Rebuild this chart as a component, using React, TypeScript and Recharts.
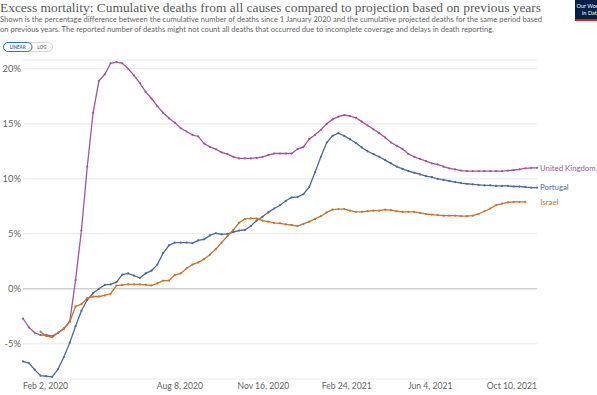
import React from 'react';
import { LineChart, Line, XAxis, YAxis, CartesianGrid, ReferenceLine } from 'recharts';

// Weekly points starting Feb 2, 2020 (day 0) through Oct 10, 2021 (day 616)
const ukValues: (number | null)[] = [
  -2.7, -3.5, -4.0, -4.2, -4.2, -4.3, -4.0, -3.6, -3.0, 0.8,
  5.3, 11.1, 16.0, 18.9, 19.5, 20.5, 20.6, 20.5, 20.0, 19.4,
  18.7, 17.9, 17.3, 16.6, 16.0, 15.5, 15.1, 14.6, 14.3, 14.0,
  13.85, 13.2, 12.9, 12.7, 12.4, 12.25, 12.0, 11.85, 11.85, 11.85,
  11.9, 12.0, 12.15, 12.3, 12.3, 12.3, 12.3, 12.7, 12.9, 13.6,
  14.0, 14.45, 15.0, 15.4, 15.65, 15.8, 15.7, 15.55, 15.2, 14.85,
  14.5, 14.15, 13.75, 13.3, 13.0, 12.7, 12.25, 12.0, 11.8, 11.6,
  11.4, 11.3, 11.1, 10.95, 10.85, 10.75, 10.7, 10.7, 10.7, 10.7,
  10.7, 10.7, 10.7, 10.75, 10.8, 10.85, 10.95, 11.0, 11.0,
];

const portugalValues: (number | null)[] = [
  -6.6, -6.75, -7.35, -7.9, -7.95, -8.0, -7.3, -6.2, -4.9, -3.4,
  -2.0, -1.0, -0.4, 0.0, 0.35, 0.4, 0.6, 1.3, 1.4, 1.2,
  1.0, 1.4, 1.65, 2.2, 3.25, 3.95, 4.2, 4.2, 4.2, 4.15,
  4.4, 4.5, 4.85, 5.05, 4.95, 5.0, 5.15, 5.3, 5.35, 5.7,
  6.2, 6.55, 6.95, 7.3, 7.6, 8.0, 8.3, 8.35, 8.6, 9.25,
  10.6, 12.0, 13.3, 13.9, 14.15, 13.9, 13.6, 13.25, 12.85, 12.5,
  12.25, 12.0, 11.7, 11.4, 11.1, 10.9, 10.7, 10.55, 10.4, 10.25,
  10.15, 10.0, 9.9, 9.8, 9.7, 9.6, 9.55, 9.5, 9.45, 9.4,
  9.4, 9.35, 9.35, 9.35, 9.3, 9.3, 9.25, 9.2, 9.2,
];

const israelValues: (number | null)[] = [
  null, null, null, -3.9, -4.3, -4.4, -4.0, -3.65, -3.0, -1.6,
  -1.4, -0.85, -0.7, -0.7, -0.6, -0.45, 0.3, 0.35, 0.4, 0.4,
  0.4, 0.35, 0.3, 0.5, 0.75, 0.75, 1.25, 1.4, 1.85, 2.2,
  2.4, 2.7, 3.1, 3.6, 4.2, 4.8, 5.35, 6.0, 6.35, 6.4,
  6.4, 6.2, 6.1, 6.0, 5.95, 5.85, 5.8, 5.7, 5.9, 6.1,
  6.35, 6.6, 6.95, 7.2, 7.25, 7.25, 7.1, 7.0, 7.0, 7.05,
  7.1, 7.1, 7.2, 7.15, 7.05, 7.0, 7.0, 7.0, 6.9, 6.8,
  6.75, 6.7, 6.65, 6.65, 6.65, 6.6, 6.6, 6.65, 6.8, 7.05,
  7.3, 7.6, 7.75, 7.85, 7.9, 7.9, 7.9, null, null,
];

const xTickDays = [0, 188, 288, 388, 488, 616];
const xTickLabels = ['Feb 2, 2020', 'Aug 8, 2020', 'Nov 16, 2020', 'Feb 24, 2021', 'Jun 4, 2021', 'Oct 10, 2021'];
const yTicks = [-5, 0, 5, 10, 15, 20];

const seriesNames = ['United Kingdom', 'Portugal', 'Israel'];
const seriesColors = ['#a2559c', '#4c6a9c', '#c8742d'];

const data = ukValues.map((v, i) => ({
  day: i * 7,
  uk: v,
  pt: portugalValues[i],
  il: israelValues[i],
}));

const FONT = 'Lato, "Open Sans", sans-serif';

const XTick = (props: any) => {
  const { x, y, payload } = props;
  const idx = xTickDays.indexOf(payload.value);
  const anchor = idx === 0 ? 'start' : idx === xTickDays.length - 1 ? 'end' : 'middle';
  return (
    <text x={x} y={y} dy={10} textAnchor={anchor} fill="#666" fontSize={8.6} fontFamily={FONT}>
      {xTickLabels[idx]}
    </text>
  );
};

const YTick = (props: any) => {
  const { x, y, payload } = props;
  return (
    <text x={x} y={y} dy={3.3} textAnchor="end" fill="#666" fontSize={9.4} fontFamily={FONT}>
      {payload.value}%
    </text>
  );
};

function makeEndLabel(lastIndex: number, name: string, color: string, dx: number) {
  return (p: any) => {
    if (p.index !== lastIndex) return <g key={`l${p.index}`} />;
    return (
      <text key="end" x={p.x + dx} y={p.y} dy={2.8} fill={color} fontSize={7.8} fontFamily={FONT}>
        {name}
      </text>
    );
  };
}

const lastIdx = (arr: (number | null)[]) => {
  for (let i = arr.length - 1; i >= 0; i--) if (arr[i] !== null) return i;
  return 0;
};

export default function App() {
  const keys = ['uk', 'pt', 'il'];
  const arrays = [ukValues, portugalValues, israelValues];
  const labelDx = [3, 3, 15];
  return (
    <div style={{ position: 'absolute', left: 0, top: 0, width: 597, height: 395, background: '#fff', overflow: 'hidden' }}>
      <svg width={597} height={60} style={{ position: 'absolute', left: 0, top: 0 }}>
        <text x={0} y={12} fill="#5a5a5a" fontSize={13.5} fontFamily='"Liberation Serif", "DejaVu Serif", serif' textLength={541} lengthAdjust="spacingAndGlyphs">
          Excess mortality: Cumulative deaths from all causes compared to projection based on previous years
        </text>
        <text x={0} y={21.5} fill="#666" fontSize={7.6} fontFamily={FONT} textLength={542} lengthAdjust="spacingAndGlyphs">
          Shown is the percentage difference between the cumulative number of deaths since 1 January 2020 and the cumulative projected deaths for the same period based
        </text>
        <text x={0} y={31.5} fill="#666" fontSize={7.6} fontFamily={FONT} textLength={494} lengthAdjust="spacingAndGlyphs">
          on previous years. The reported number of deaths might not count all deaths that occurred due to incomplete coverage and delays in death reporting.
        </text>
        <rect x={3.5} y={42.5} width={49} height={9} rx={4.5} fill="#fff" stroke="#ccc" strokeWidth={0.8} />
        <rect x={3.5} y={42.5} width={28.5} height={9} rx={4.5} fill="#fff" stroke="#3a72c4" strokeWidth={1} />
        <text x={17.7} y={49} textAnchor="middle" fill="#3a72c4" fontSize={4.6} fontFamily={FONT} fontWeight={700}>LINEAR</text>
        <text x={42} y={49} textAnchor="middle" fill="#888" fontSize={4.6} fontFamily={FONT} fontWeight={700}>LOG</text>
        <rect x={575} y={0} width={40} height={20} fill="#002147" />
        <rect x={575} y={19} width={40} height={2} fill="#ce261e" />
        <text x={576.5} y={7.5} fill="#fff" fontSize={5.6} fontFamily={FONT}>Our World</text>
        <text x={582} y={14.5} fill="#fff" fontSize={5.6} fontFamily={FONT}>in Data</text>
      </svg>
      <div style={{ position: 'absolute', left: 0, top: 0 }}>
        <LineChart width={597} height={395} data={data} margin={{ top: 60, right: 60, bottom: 0, left: 0 }}>
          <CartesianGrid horizontal vertical={false} stroke="#e8e8e8" strokeWidth={1} />
          <XAxis
            dataKey="day"
            type="number"
            domain={[0, 616]}
            ticks={xTickDays}
            interval={0}
            tick={<XTick />}
            tickLine={false}
            axisLine={false}
            tickSize={0}
            tickMargin={0}
            height={16}
          />
          <YAxis
            type="number"
            domain={[-8.2, 20.8]}
            ticks={yTicks}
            interval={0}
            tick={<YTick />}
            tickLine={false}
            axisLine={false}
            tickSize={0}
            tickMargin={2}
            width={23}
            allowDataOverflow
          />
          <ReferenceLine y={0} stroke="#c4c4c4" strokeWidth={1} />
          {keys.map((k, si) => (
            <Line
              key={k}
              type="linear"
              dataKey={k}
              name={seriesNames[si]}
              stroke={seriesColors[si]}
              strokeWidth={1.3}
              dot={{ r: 1.1, strokeWidth: 0, fill: seriesColors[si] }}
              activeDot={false}
              connectNulls={false}
              isAnimationActive={false}
              label={makeEndLabel(lastIdx(arrays[si]), seriesNames[si], seriesColors[si], labelDx[si])}
            />
          ))}
        </LineChart>
      </div>
    </div>
  );
}
